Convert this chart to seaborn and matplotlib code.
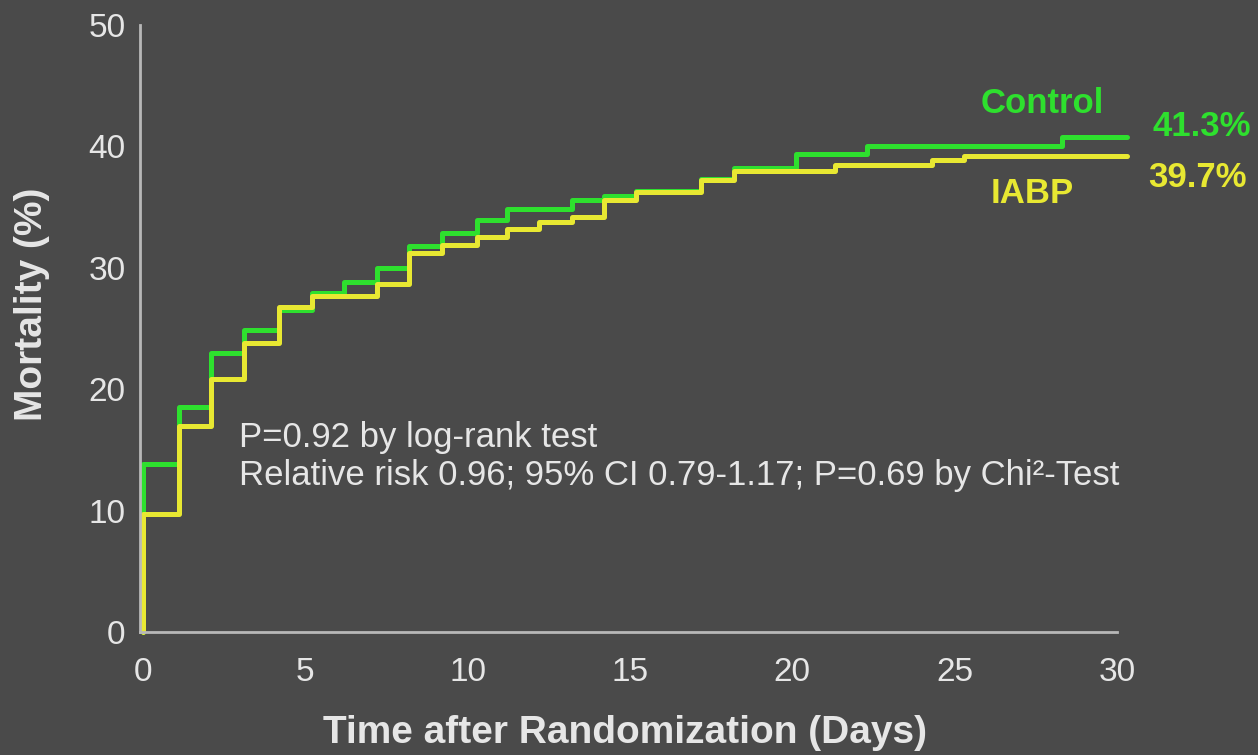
import numpy as np
import pandas as pd
import matplotlib
matplotlib.use("Agg")
import matplotlib.pyplot as plt
import seaborn as sns

# Kaplan-Meier style cumulative mortality
control_days = [0, 0, 1.1, 2.1, 3.1, 4.2, 5.2, 6.2, 7.2, 8.2, 9.2, 10.3, 11.2,
                13.2, 14.2, 15.2, 17.2, 18.2, 20.1, 22.3, 28.3, 30.3]
control_mort = [0, 13.8, 18.5, 23.0, 24.9, 26.5, 27.9, 28.8, 30.0, 31.8, 32.9, 33.9, 34.8,
                35.6, 35.9, 36.3, 37.3, 38.2, 39.4, 40.0, 40.8, 40.8]

iabp_days = [0, 0, 1.1, 2.1, 3.1, 4.2, 5.2, 7.2, 8.2, 9.2, 10.3, 11.2, 12.2,
             13.2, 14.2, 15.2, 17.2, 18.2, 21.3, 24.3, 25.3, 30.3]
iabp_mort = [0, 9.7, 17.0, 20.8, 23.8, 26.8, 27.7, 28.7, 31.2, 31.9, 32.5, 33.2, 33.8,
             34.2, 35.6, 36.2, 37.2, 38.0, 38.5, 38.9, 39.2, 39.2]

groups = ["Control", "IABP"]
end_labels = ["41.3%", "39.7%"]
x_ticks = [0, 5, 10, 15, 20, 25, 30]
y_ticks = [0, 10, 20, 30, 40, 50]

bg = "#4a4a4a"
fg = "#e6e6e6"
spine_col = "#b8b8b8"
colors = {"Control": "#2ee02e", "IABP": "#e8e832"}

df = pd.concat([
    pd.DataFrame({"day": control_days, "mortality": control_mort, "group": "Control"}),
    pd.DataFrame({"day": iabp_days, "mortality": iabp_mort, "group": "IABP"}),
], ignore_index=True)

sns.set_style("dark", {"axes.facecolor": bg, "figure.facecolor": bg})
plt.rcParams["font.family"] = ["Liberation Sans", "DejaVu Sans"]

fig = plt.figure(figsize=(12.58, 7.55), dpi=100)
ax = fig.add_axes([0.111, 0.163, 0.777, 0.804])

for g in groups:
    sub = df[df["group"] == g]
    sns.lineplot(data=sub, x="day", y="mortality", sort=False, estimator=None,
                 drawstyle="steps-post", color=colors[g], linewidth=3.6,
                 ax=ax, legend=False, clip_on=False)

ax.set_xlim(-0.1, 30)
ax.set_ylim(0, 50)
ax.set_xticks(x_ticks)
ax.set_yticks(y_ticks)
ax.tick_params(colors=fg, labelsize=24, length=4, width=1.5, direction="inout")
ax.tick_params(axis="x", pad=16)
ax.tick_params(axis="y", pad=8)
for side in ["top", "right"]:
    ax.spines[side].set_visible(False)
for side in ["left", "bottom"]:
    ax.spines[side].set_visible(True)
    ax.spines[side].set_color(spine_col)
    ax.spines[side].set_linewidth(2)
ax.grid(False)

ax.set_xlabel("Time after Randomization (Days)", color=fg, fontsize=28,
              fontweight="bold", va="center", ha="center")
ax.set_ylabel("Mortality (%)", color=fg, fontsize=28, fontweight="bold",
              va="center", ha="center")
ax.xaxis.set_label_coords(0.497, -0.167)
ax.yaxis.set_label_coords(-0.110, 0.539)

# group labels and end values
ax.text(27.7, 43.5, groups[0], color=colors["Control"], fontsize=25, fontweight="bold",
        ha="center", va="center")
ax.text(27.4, 36.1, groups[1], color=colors["IABP"], fontsize=25, fontweight="bold",
        ha="center", va="center")
ax.text(31.1, 41.6, end_labels[0], color=colors["Control"], fontsize=25,
        fontweight="bold", ha="left", va="center", clip_on=False)
ax.text(30.95, 37.4, end_labels[1], color=colors["IABP"], fontsize=25,
        fontweight="bold", ha="left", va="center", clip_on=False)

ax.text(2.95, 16.0, "P=0.92 by log-rank test", color=fg, fontsize=25, ha="left", va="center")
ax.text(2.95, 12.9, "Relative risk 0.96; 95% CI 0.79-1.17; P=0.69 by Chi\u00b2-Test",
        color=fg, fontsize=25, ha="left", va="center")

fig.savefig("out.png", dpi=100, facecolor=bg)
